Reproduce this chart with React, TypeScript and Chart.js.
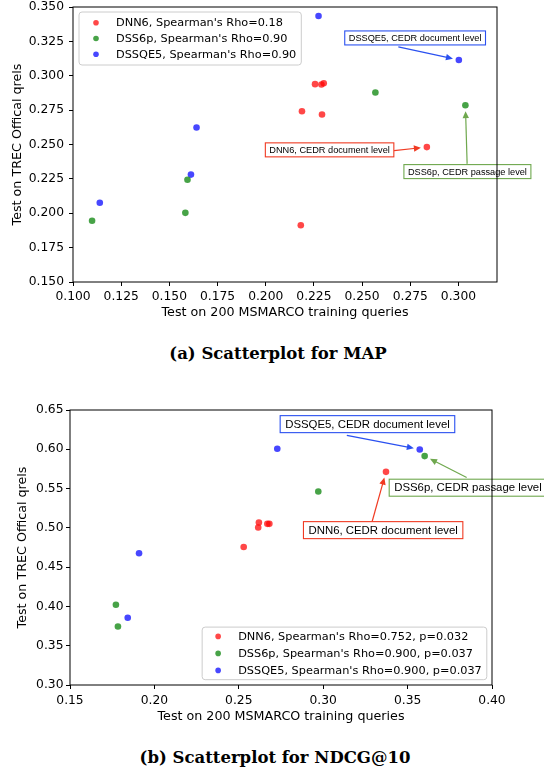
import React, { useEffect, useRef } from 'react';
import { Chart, registerables } from 'chart.js';

Chart.register(...registerables);

// ---------------- Data: (a) MAP ----------------
const mapLabels = ["DNN6, Spearman's Rho=0.18", "DSS6p, Spearman's Rho=0.90", "DSSQE5, Spearman's Rho=0.90"];
const mapDnn6X = [0.2256, 0.2289, 0.2301, 0.2188, 0.2292, 0.2836, 0.2182];
const mapDnn6Y = [0.2939, 0.2936, 0.2946, 0.2742, 0.2718, 0.2481, 0.1913];
const mapDss6pX = [0.2569, 0.3036, 0.1594, 0.1583, 0.1099];
const mapDss6pY = [0.2878, 0.2786, 0.2244, 0.2003, 0.1945];
const mapDssqe5X = [0.2274, 0.3002, 0.1641, 0.1612, 0.1139];
const mapDssqe5Y = [0.3435, 0.3115, 0.2624, 0.2281, 0.2076];
const mapXTicks = [0.1, 0.125, 0.15, 0.175, 0.2, 0.225, 0.25, 0.275, 0.3];
const mapYTicks = [0.15, 0.175, 0.2, 0.225, 0.25, 0.275, 0.3, 0.325, 0.35];

// ---------------- Data: (b) NDCG@10 ----------------
const ndcgLabels = [
  "DNN6, Spearman's Rho=0.752, p=0.032",
  "DSS6p, Spearman's Rho=0.900, p=0.037",
  "DSSQE5, Spearman's Rho=0.900, p=0.037",
];
const ndcgDnn6X = [0.3372, 0.2619, 0.2615, 0.2669, 0.2681, 0.2529];
const ndcgDnn6Y = [0.5713, 0.5068, 0.5004, 0.5051, 0.5051, 0.4757];
const ndcgDss6pX = [0.3601, 0.2971, 0.1772, 0.1784];
const ndcgDss6pY = [0.5913, 0.5462, 0.4021, 0.3745];
const ndcgDssqe5X = [0.2728, 0.3572, 0.1909, 0.1842];
const ndcgDssqe5Y = [0.6006, 0.5998, 0.4677, 0.3855];
const ndcgXTicks = [0.15, 0.2, 0.25, 0.3, 0.35, 0.4];
const ndcgYTicks = [0.3, 0.35, 0.4, 0.45, 0.5, 0.55, 0.6, 0.65];

// annotations: series/index point at the target data point
const mapNotes = [
  { text: 'DSSQE5, CEDR document level', series: 2, index: 1, boxX: 0.2410, boxY: 0.3275, tailX: 0.2688, tailY: 0.3210, color: '#2a50f0' },
  { text: 'DNN6, CEDR document level', series: 0, index: 5, boxX: 0.1998, boxY: 0.2461, tailX: 0.2666, tailY: 0.2456, color: '#f03a22' },
  { text: 'DSS6p, CEDR passage level', series: 1, index: 1, boxX: 0.2717, boxY: 0.2303, tailX: 0.3045, tailY: 0.2359, color: '#6fa84e' },
];
const ndcgNotes = [
  { text: 'DSSQE5, CEDR document level', series: 2, index: 1, boxX: 0.2745, boxY: 0.6320, tailX: 0.3140, tailY: 0.6177, color: '#2a50f0' },
  { text: 'DSS6p, CEDR passage level', series: 1, index: 0, boxX: 0.3391, boxY: 0.5511, tailX: 0.3850, tailY: 0.5640, color: '#6fa84e' },
  { text: 'DNN6, CEDR document level', series: 0, index: 0, boxX: 0.2883, boxY: 0.4971, tailX: 0.3290, tailY: 0.5081, color: '#f03a22' },
];

const COLORS = ['rgba(255,0,0,0.72)', 'rgba(0,128,0,0.72)', 'rgba(0,0,255,0.72)'];
const W = 544;

function overlayPlugin(cfg: any) {
  return {
    id: 'overlay',
    afterDraw(chart: any) {
      const ctx = chart.ctx;
      const xs = chart.scales.x, ys = chart.scales.y;
      const area = chart.chartArea;
      ctx.save();
      // annotations
      for (const n of cfg.notes) {
        ctx.font = `${cfg.noteFont}px "Liberation Sans", Arial, sans-serif`;
        const tw = ctx.measureText(n.text).width;
        const bx = xs.getPixelForValue(n.boxX), by = ys.getPixelForValue(n.boxY);
        const bw = tw + 2 * cfg.notePadX, bh = cfg.noteBoxH;
        const p = chart.data.datasets[n.series].data[n.index];
        const px = xs.getPixelForValue(p.x), py = ys.getPixelForValue(p.y);
        const tx = xs.getPixelForValue(n.tailX), ty = ys.getPixelForValue(n.tailY);
        const dx = px - tx, dy = py - ty, L = Math.hypot(dx, dy);
        const ux = dx / L, uy = dy / L;
        const hx = px - ux * cfg.shrink, hy = py - uy * cfg.shrink;
        const hl = 7, hw = 3.2;
        ctx.strokeStyle = n.color; ctx.lineWidth = 1.2;
        ctx.beginPath(); ctx.moveTo(tx, ty); ctx.lineTo(hx - ux * hl * 0.7, hy - uy * hl * 0.7); ctx.stroke();
        ctx.fillStyle = n.color;
        ctx.beginPath(); ctx.moveTo(hx, hy);
        ctx.lineTo(hx - ux * hl - uy * hw, hy - uy * hl + ux * hw);
        ctx.lineTo(hx - ux * hl + uy * hw, hy - uy * hl - ux * hw);
        ctx.closePath(); ctx.fill();
        ctx.fillStyle = '#fff';
        ctx.fillRect(bx, by - bh / 2, bw, bh);
        ctx.strokeStyle = n.color; ctx.lineWidth = 1.1;
        ctx.strokeRect(bx, by - bh / 2, bw, bh);
        ctx.fillStyle = '#000'; ctx.textAlign = 'left'; ctx.textBaseline = 'middle';
        ctx.fillText(n.text, bx + cfg.notePadX, by + 0.5);
      }
      // frame
      ctx.strokeStyle = '#000'; ctx.lineWidth = 1;
      ctx.strokeRect(area.left, area.top, area.right - area.left, area.bottom - area.top);
      // legend
      const lg = cfg.legend;
      ctx.font = `${lg.font}px "DejaVu Sans", sans-serif`;
      const labels = chart.data.datasets.map((d: any) => d.label);
      const tw = Math.max(...labels.map((t: string) => ctx.measureText(t).width));
      const bw = lg.textX + tw + lg.padR;
      const bh = lg.firstRow * 2 + lg.rowGap * (labels.length - 1);
      const bx = lg.corner === 'tl' ? area.left + lg.offX : area.right - lg.offX - bw;
      const by = lg.corner === 'tl' ? area.top + lg.offY : area.bottom - lg.offY - bh;
      ctx.fillStyle = 'rgba(255,255,255,0.85)';
      ctx.strokeStyle = '#cccccc'; ctx.lineWidth = 1;
      ctx.beginPath();
      (ctx as any).roundRect(bx, by, bw, bh, 3);
      ctx.fill(); ctx.stroke();
      labels.forEach((t: string, i: number) => {
        const ry = by + lg.firstRow + i * lg.rowGap;
        ctx.fillStyle = chart.data.datasets[i].backgroundColor;
        ctx.beginPath(); ctx.arc(bx + lg.markerX, ry, lg.markerR, 0, Math.PI * 2); ctx.fill();
        ctx.fillStyle = '#000'; ctx.textAlign = 'left'; ctx.textBaseline = 'middle';
        ctx.fillText(t, bx + lg.textX, ry + 0.5);
      });
      ctx.restore();
    },
  };
}

function makeConfig(p: any) {
  const tickFont = { family: '"DejaVu Sans", sans-serif', size: 12.3 };
  const titleFont = { family: '"DejaVu Sans", sans-serif', size: 12.7 };
  const grid = { display: true, drawOnChartArea: false, drawTicks: true, tickLength: 4, tickColor: '#000', tickWidth: 1 };
  return {
    type: 'scatter',
    data: {
      datasets: p.series.map((s: any, i: number) => ({
        label: p.labels[i],
        data: s.x.map((x: number, j: number) => ({ x, y: s.y[j] })),
        backgroundColor: COLORS[i],
        borderWidth: 0,
        pointRadius: 3.3,
        pointHoverRadius: 3.3,
      })),
    },
    options: {
      responsive: false,
      animation: false,
      events: [],
      layout: { padding: { left: 0, top: p.area.top, right: W - p.area.right, bottom: 0 } },
      plugins: { legend: { display: false }, tooltip: { enabled: false } },
      scales: {
        x: {
          type: 'linear', min: p.xMin, max: p.xMax,
          afterBuildTicks: (s: any) => { s.ticks = p.xTicks.map((v: number) => ({ value: v })); },
          afterFit: (s: any) => { s.height = p.height - p.area.bottom; s.paddingLeft = 0; s.paddingRight = 0; },
          ticks: { font: tickFont, color: '#000', padding: p.xTickPad, autoSkip: false, maxRotation: 0, minRotation: 0,
            callback: (v: any) => Number(v).toFixed(p.xDec) },
          grid, border: { display: false },
          title: { display: true, text: 'Test on 200 MSMARCO training queries', color: '#000', font: titleFont, padding: { top: 0, bottom: p.xTitlePad } },
        },
        y: {
          type: 'linear', min: p.yMin, max: p.yMax,
          afterBuildTicks: (s: any) => { s.ticks = p.yTicks.map((v: number) => ({ value: v })); },
          afterFit: (s: any) => { s.width = p.area.left; s.paddingTop = 0; s.paddingBottom = 0; },
          ticks: { font: tickFont, color: '#000', padding: p.yTickPad, autoSkip: false,
            callback: (v: any) => Number(v).toFixed(p.yDec) },
          grid, border: { display: false },
          title: { display: true, text: 'Test on TREC Offical qrels', color: '#000', font: titleFont, padding: { top: p.yTitlePad, bottom: 0 } },
        },
      },
    },
    plugins: [overlayPlugin(p)],
  };
}

const mapPanel = {
  height: 330,
  area: { left: 73, right: 497, top: 7, bottom: 282 },
  series: [{ x: mapDnn6X, y: mapDnn6Y }, { x: mapDss6pX, y: mapDss6pY }, { x: mapDssqe5X, y: mapDssqe5Y }],
  labels: mapLabels,
  xMin: 0.1, xMax: 0.32, yMin: 0.15, yMax: 0.35,
  xTicks: mapXTicks, yTicks: mapYTicks, xDec: 3, yDec: 3,
  xTickPad: 3, yTickPad: 5, xTitlePad: 10.1, yTitlePad: 9.7,
  notes: mapNotes, noteFont: 9.2, notePadX: 4, noteBoxH: 14, shrink: 6,
  legend: { corner: 'tl', offX: 6, offY: 5, firstRow: 10.7, rowGap: 15.8, markerX: 17, markerR: 2.8, textX: 37, padR: 5, font: 11.3 },
};

const ndcgPanel = {
  height: 345,
  area: { left: 70, right: 492, top: 30, bottom: 305 },
  series: [{ x: ndcgDnn6X, y: ndcgDnn6Y }, { x: ndcgDss6pX, y: ndcgDss6pY }, { x: ndcgDssqe5X, y: ndcgDssqe5Y }],
  labels: ndcgLabels,
  xMin: 0.15, xMax: 0.4, yMin: 0.3, yMax: 0.65,
  xTicks: ndcgXTicks, yTicks: ndcgYTicks, xDec: 2, yDec: 2,
  xTickPad: 4.5, yTickPad: 2.5, xTitlePad: 0.8, yTitlePad: 14.8,
  notes: ndcgNotes, noteFont: 11.4, notePadX: 5, noteBoxH: 17, shrink: 6,
  legend: { corner: 'br', offX: 5.2, offY: 5.3, firstRow: 9.3, rowGap: 17, markerX: 16, markerR: 2.8, textX: 36, padR: 5, font: 11.3 },
};

function Panel({ panel, top }: { panel: any; top: number }) {
  const ref = useRef<HTMLCanvasElement>(null);
  useEffect(() => {
    const chart = new Chart(ref.current as HTMLCanvasElement, makeConfig(panel) as any);
    return () => chart.destroy();
  }, [panel]);
  return (
    <canvas ref={ref} width={W} height={panel.height}
      style={{ position: 'absolute', left: 0, top, width: W, height: panel.height }} />
  );
}

const captionStyle: React.CSSProperties = {
  position: 'absolute', left: 0, textAlign: 'center', fontFamily: '"DejaVu Serif", serif',
  fontWeight: 'bold', fontSize: 16.5, lineHeight: '20px', color: '#000', whiteSpace: 'nowrap',
};

export default function App() {
  return (
    <div style={{ position: 'absolute', left: 0, top: 0, width: 544, height: 771, background: '#fff', overflow: 'hidden' }}>
      <Panel panel={mapPanel} top={0} />
      <div style={{ ...captionStyle, top: 344, width: 556 }}>(a) Scatterplot for MAP</div>
      <Panel panel={ndcgPanel} top={380} />
      <div style={{ ...captionStyle, top: 748, width: 550 }}>(b) Scatterplot for NDCG@10</div>
    </div>
  );
}
